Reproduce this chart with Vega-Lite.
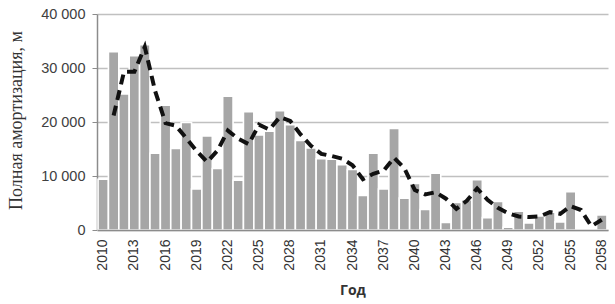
{
  "$schema": "https://vega.github.io/schema/vega-lite/v6.json",
  "autosize": {"type": "none"},
  "width": 511,
  "height": 216,
  "padding": {"left": 97, "top": 14, "right": 7, "bottom": 74},
  "background": "white",
  "data": {
    "values": [
      {"year": 2010, "bar": 9400, "line": null},
      {"year": 2011, "bar": 33000, "line": 21200},
      {"year": 2012, "bar": 25200, "line": 29300},
      {"year": 2013, "bar": 32300, "line": 29300},
      {"year": 2014, "bar": 34300, "line": 33900},
      {"year": 2015, "bar": 14200, "line": 25700},
      {"year": 2016, "bar": 23100, "line": 19800},
      {"year": 2017, "bar": 15100, "line": 19300},
      {"year": 2018, "bar": 19900, "line": 17000},
      {"year": 2019, "bar": 7600, "line": 14600},
      {"year": 2020, "bar": 17400, "line": 12600},
      {"year": 2021, "bar": 11400, "line": 14700},
      {"year": 2022, "bar": 24800, "line": 18400},
      {"year": 2023, "bar": 9200, "line": 16900},
      {"year": 2024, "bar": 21900, "line": 15900},
      {"year": 2025, "bar": 17600, "line": 19500},
      {"year": 2026, "bar": 18300, "line": 18600},
      {"year": 2027, "bar": 22100, "line": 20900},
      {"year": 2028, "bar": 19500, "line": 20200},
      {"year": 2029, "bar": 16600, "line": 17700},
      {"year": 2030, "bar": 15200, "line": 15600},
      {"year": 2031, "bar": 13200, "line": 14100},
      {"year": 2032, "bar": 13100, "line": 13700},
      {"year": 2033, "bar": 12100, "line": 13200},
      {"year": 2034, "bar": 11200, "line": 12000},
      {"year": 2035, "bar": 6400, "line": 9400},
      {"year": 2036, "bar": 14200, "line": 10400},
      {"year": 2037, "bar": 7600, "line": 11000},
      {"year": 2038, "bar": 18800, "line": 13400},
      {"year": 2039, "bar": 5900, "line": 11400},
      {"year": 2040, "bar": 8600, "line": 7400},
      {"year": 2041, "bar": 3800, "line": 6600},
      {"year": 2042, "bar": 10500, "line": 7000},
      {"year": 2043, "bar": 1400, "line": 5800},
      {"year": 2044, "bar": 5100, "line": 3900},
      {"year": 2045, "bar": 5600, "line": 5400},
      {"year": 2046, "bar": 9300, "line": 7700},
      {"year": 2047, "bar": 2300, "line": 5600},
      {"year": 2048, "bar": 5300, "line": 4100},
      {"year": 2049, "bar": 500, "line": 3100},
      {"year": 2050, "bar": 3500, "line": 2500},
      {"year": 2051, "bar": 1300, "line": 2400},
      {"year": 2052, "bar": 2600, "line": 2500},
      {"year": 2053, "bar": 3300, "line": 3300},
      {"year": 2054, "bar": 1500, "line": 3000},
      {"year": 2055, "bar": 7100, "line": 4400},
      {"year": 2056, "bar": 300, "line": 3700},
      {"year": 2057, "bar": 100, "line": 700},
      {"year": 2058, "bar": 2800, "line": 1900}
    ]
  },
  "encoding": {
    "x": {
      "field": "year",
      "type": "ordinal",
      "scale": {"paddingInner": 0, "paddingOuter": 0.1},
      "axis": {
        "title": "Год",
        "titleFont": "Open Sans",
        "titleFontWeight": "bold",
        "titleFontSize": 14,
        "titleColor": "#333333",
        "titlePadding": 13,
        "values": [2010, 2013, 2016, 2019, 2022, 2025, 2028, 2031, 2034, 2037, 2040, 2043, 2046, 2049, 2052, 2055, 2058],
        "labelAngle": -90,
        "labelFont": "Liberation Sans",
        "labelFontSize": 14,
        "labelColor": "#333333",
        "labelPadding": 9,
        "ticks": false,
        "domainColor": "#8c8c8c",
        "domainWidth": 1.5,
        "zindex": 1
      }
    }
  },
  "layer": [
    {
      "mark": {"type": "bar", "color": "#a6a6a6", "stroke": "white", "strokeWidth": 1.6},
      "encoding": {
        "y": {
          "field": "bar",
          "type": "quantitative",
          "scale": {"domain": [0, 40000], "nice": false},
          "axis": {
            "title": "Полная амортизация, м",
            "titleFont": "Liberation Serif",
            "titleFontSize": 18,
            "titleFontWeight": "normal",
            "titleColor": "#333333",
            "titleX": -72,
            "titleY": 106,
            "values": [0, 5000, 10000, 15000, 20000, 25000, 30000, 35000, 40000],
            "labelExpr": "replace(format(datum.value, ','), ',', ' ')",
            "labelFont": "Liberation Sans",
            "labelFontSize": 14.5,
            "labelColor": "#404040",
            "labelPadding": 7,
            "tickSize": 5,
            "tickColor": "#8c8c8c",
            "domainColor": "#8c8c8c",
            "domainWidth": 1.5,
            "gridColor": "#c0c0c0",
            "gridWidth": 1.5
          }
        }
      }
    },
    {
      "mark": {"type": "line", "color": "#111111", "strokeWidth": 4, "strokeDash": [10, 6], "strokeCap": "butt"},
      "encoding": {
        "y": {"field": "line", "type": "quantitative"}
      }
    }
  ],
  "config": {"view": {"stroke": null}}
}
